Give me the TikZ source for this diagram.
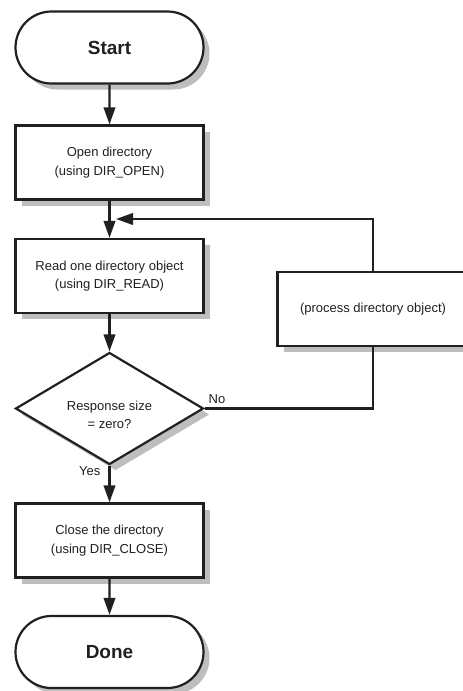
\documentclass[tikz,border=0pt]{standalone}
\usepackage{fontspec}
\setmainfont{Liberation Sans}
\usetikzlibrary{shapes.misc,shapes.geometric,shadows,arrows.meta,positioning}
\definecolor{linecol}{RGB}{35,31,32}
\definecolor{shadowcol}{RGB}{190,190,192}
\tikzset{
  base/.style={draw=linecol, line width=2.2pt, fill=white, text=linecol,
    drop shadow={shadow xshift=6pt, shadow yshift=-6pt, fill=shadowcol, opacity=1},
    font=\fontsize{13}{18.5}\selectfont, align=center, inner sep=0pt},
  termbox/.style={base, rounded rectangle, minimum width=188pt, minimum height=72pt,
    font=\fontsize{19}{22}\selectfont\bfseries},
  procbox/.style={base, rectangle, minimum width=188pt, minimum height=74pt},
  decbox/.style={base, diamond, aspect=1.68, minimum width=188pt, minimum height=112pt,
    text height=40pt, text depth=0pt},
  lbl/.style={font=\fontsize{13}{15}\selectfont, text=linecol, inner sep=1pt},
  conn/.style={draw=linecol, line width=2.2pt},
  arr/.style={conn, -{Triangle[length=17pt,width=11.5pt]}}
}
\begin{document}
\begin{tikzpicture}[x=1pt,y=-1pt]
\useasboundingbox (0,0) rectangle (463,691);
\node[termbox] (start) at (109.5,47.5) {Start};
\node[procbox] (open) at (109.5,162.5) {Open directory\\(using DIR\_OPEN)};
\node[procbox] (read) at (109.5,276) {Read one directory object\\(using DIR\_READ)};
\node[decbox] (dec) at (109.5,408.5) {Response size\\= zero?};
\node[procbox, minimum width=191pt] (proc) at (373,309) {(process directory object)};
\node[procbox] (close) at (109.5,540.5) {Close the directory\\(using DIR\_CLOSE)};
\node[termbox] (done) at (109.5,652) {Done};
\coordinate (jn) at (116,219);
\draw[arr] (start) -- (open);
\draw[arr] (open) -- (read);
\draw[arr] (read) -- (dec);
\draw[arr] (dec) -- node[lbl, pos=0.15, left=7pt] (yes) {Yes} (close);
\draw[arr] (close) -- (done);
\draw[conn] (dec.east) -- node[lbl, pos=0.0, anchor=south west, xshift=2pt, yshift=3pt] (no) {No} (dec.east -| proc.south) -- (proc.south);
\draw[arr] (proc.north) -- (proc.north |- jn) -- (jn);
\end{tikzpicture}
\end{document}
